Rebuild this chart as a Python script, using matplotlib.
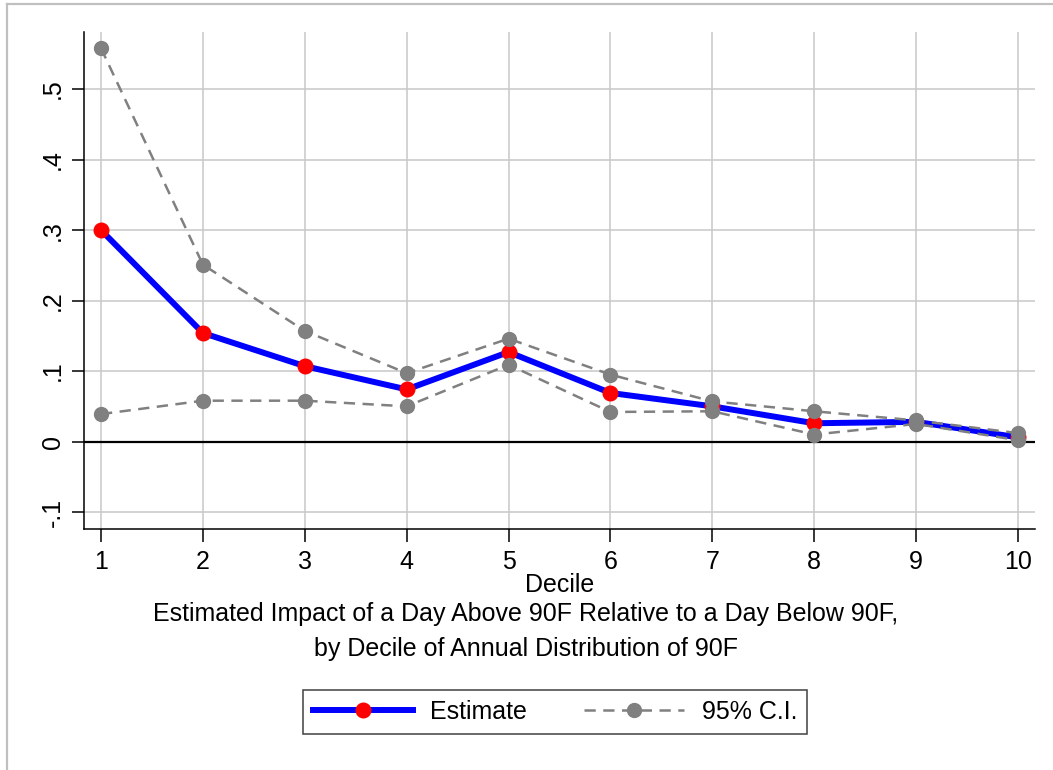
import numpy as np
import matplotlib
matplotlib.use("Agg")
import matplotlib.pyplot as plt
from matplotlib.lines import Line2D

plt.rcParams['font.family'] = ['Liberation Sans', 'DejaVu Sans']

# data
decile = [1, 2, 3, 4, 5, 6, 7, 8, 9, 10]
estimate = [0.300, 0.154, 0.107, 0.074, 0.127, 0.069, 0.050, 0.026, 0.028, 0.006]
ci_upper = [0.558, 0.251, 0.157, 0.097, 0.146, 0.095, 0.057, 0.043, 0.030, 0.012]
ci_lower = [0.039, 0.058, 0.058, 0.050, 0.109, 0.042, 0.043, 0.010, 0.025, 0.002]
yticks = [-0.1, 0, 0.1, 0.2, 0.3, 0.4, 0.5]
ytick_labels = ['-.1', '0', '.1', '.2', '.3', '.4', '.5']

W, H = 1053, 770
FS = 18
fig = plt.figure(figsize=(W / 100, H / 100), dpi=100)
fig.patch.set_facecolor('white')

# outer graph region frame (only top/left visible)
fig.add_artist(Line2D([7 / W, 1], [1 - 4 / H, 1 - 4 / H], transform=fig.transFigure,
                      color='#c0c0c0', lw=1.6))
fig.add_artist(Line2D([7 / W, 7 / W], [0, 1 - 4 / H], transform=fig.transFigure,
                      color='#c0c0c0', lw=1.6))

L, R, T, B = 84, 1035, 32, 529
ax = fig.add_axes([L / W, 1 - B / H, (R - L) / W, (B - T) / H])
ax.set_xlim(0.833, 10.167)
ax.set_ylim(-0.124, 0.581)

ax.set_xticks(decile)
ax.set_yticks(yticks)
ax.set_yticklabels(ytick_labels, rotation=90, va='center')
ax.tick_params(axis='both', labelsize=FS, length=9, width=1.1, color='black')
ax.tick_params(axis='y', pad=5)
ax.tick_params(axis='x', pad=6)

ax.grid(True, color='#c8c8c8', lw=1.1)
ax.set_axisbelow(True)
for s in ['top', 'right']:
    ax.spines[s].set_visible(False)
for s in ['left', 'bottom']:
    ax.spines[s].set_linewidth(1.1)

ax.axhline(0, color='black', lw=1.6, zorder=1.5)

ci_style = dict(color='#808080', lw=1.8, dashes=(4.5, 3), marker='o', markersize=10,
                markerfacecolor='#808080', markeredgecolor='#808080')
est_style = dict(color='#0000ff', lw=4.3, marker='o', markersize=10.5,
                 markerfacecolor='#ff0000', markeredgecolor='#ff0000')
ax.plot(decile, ci_upper, zorder=3, **ci_style)
ax.plot(decile, ci_lower, zorder=3, **ci_style)
ax.plot(decile, estimate, zorder=2.5, **est_style)

fig.text(0.5 * (L + R) / W, 1 - 585 / H, 'Decile', ha='center', va='center', fontsize=FS)
fig.text(526 / W, 1 - 614 / H, 'Estimated Impact of a Day Above 90F Relative to a Day Below 90F,',
         ha='center', va='center', fontsize=FS)
fig.text(526 / W, 1 - 649 / H, 'by Decile of Annual Distribution of 90F',
         ha='center', va='center', fontsize=FS)

h_est = Line2D([], [], **est_style)
h_ci = Line2D([], [], **ci_style)
leg = fig.legend([h_est, h_ci], ['Estimate', '95% C.I.'], loc='center',
                 bbox_to_anchor=(555 / W, 1 - 712 / H), ncol=2, fontsize=FS,
                 frameon=True, fancybox=False, edgecolor='#404040', framealpha=1,
                 handlelength=4.0, numpoints=1, columnspacing=2.3, handletextpad=0.7,
                 borderpad=0.4)
leg.get_frame().set_linewidth(1.1)

fig.savefig('out.png', dpi=100, facecolor='white')
